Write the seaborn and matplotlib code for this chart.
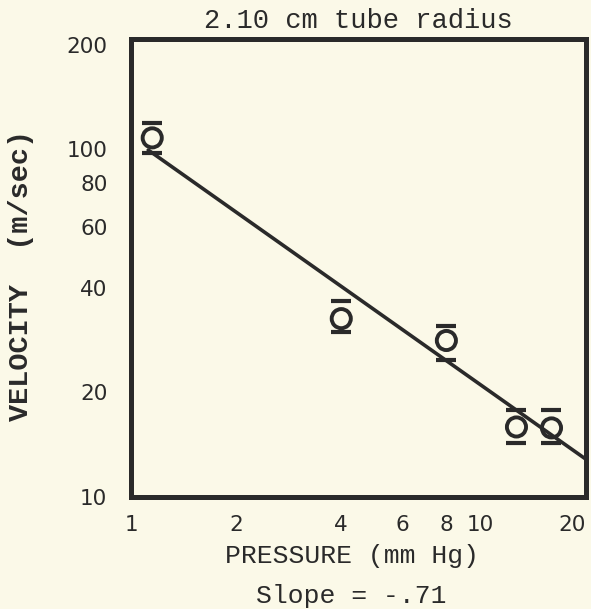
import numpy as np
import pandas as pd
import matplotlib
matplotlib.use("Agg")
import matplotlib.pyplot as plt
from matplotlib.ticker import FixedLocator, FixedFormatter, NullFormatter
import seaborn as sns

# Measured velocity vs. pressure, 2.10 cm tube
pressure = [1.15, 4.0, 8.0, 12.7, 16.0]          # mm Hg
velocity = [108.0, 32.6, 28.2, 15.9, 15.8]       # m/sec
vel_upper = [119.5, 36.7, 31.1, 17.8, 17.8]      # upper bar
vel_lower = [98.0, 29.9, 24.7, 14.3, 14.3]       # lower bar

# Power-law fit  V = C * P**slope
fit_slope = -0.71
fit_coef = 108.0
fit_range = [1.12, 20.1]

x_ticks = [1, 2, 4, 6, 8, 10, 20]
x_ticklabels = ["1", "2", "4", "6", "8", "10", "20"]
x_marks = [2, 4, 6, 8, 10]
y_ticks = [10, 20, 40, 60, 80, 100, 200]
y_ticklabels = ["10", "20", "40", "60", "80", "100", "200"]
y_marks = [20, 40, 60, 80]

title_text = "2.10 cm tube radius"
x_label = "PRESSURE (mm Hg)"
slope_text = "Slope = -.71"
y_label = "VELOCITY  (m/sec)"

paper = "#fbf9e8"
ink = "#2a2a2a"
mono = ["Liberation Mono", "DejaVu Sans Mono"]

sns.set_theme(style="ticks")
plt.rcParams["font.family"] = ["DejaVu Sans"]

df = pd.DataFrame({"pressure": pressure, "velocity": velocity})
fit_p = np.array(fit_range)
fit_df = pd.DataFrame({"pressure": fit_p, "velocity": fit_coef * fit_p ** fit_slope})

fig = plt.figure(figsize=(5.91, 6.09), dpi=100, facecolor=paper)
ax = fig.add_axes([0.2217, 0.184, 0.77, 0.752], facecolor=paper)
ax.set_xscale("log")
ax.set_yscale("log")

sns.lineplot(data=fit_df, x="pressure", y="velocity", ax=ax, color=ink,
             linewidth=2.6, zorder=2)

vel = np.array(velocity)
yerr = np.vstack([vel - np.array(vel_lower), np.array(vel_upper) - vel])
ax.errorbar(pressure, velocity, yerr=yerr, fmt="none", elinewidth=0,
            ecolor=ink, capsize=7.5, capthick=3.0, zorder=3)

sns.scatterplot(data=df, x="pressure", y="velocity", ax=ax, s=190,
                marker="o", facecolor="none", edgecolor=ink, linewidth=2.8,
                zorder=4)

ax.set_xlim(1, 20.1)
ax.set_ylim(10, 208)

for s in ax.spines.values():
    s.set_linewidth(3.6)
    s.set_color(ink)
    s.set_visible(True)

ax.xaxis.set_major_locator(FixedLocator(x_ticks))
ax.xaxis.set_major_formatter(FixedFormatter(x_ticklabels))
ax.xaxis.set_minor_locator(FixedLocator(x_marks))
ax.xaxis.set_minor_formatter(NullFormatter())
ax.yaxis.set_major_locator(FixedLocator(y_ticks))
ax.yaxis.set_major_formatter(FixedFormatter(y_ticklabels))
ax.yaxis.set_minor_locator(FixedLocator(y_marks))
ax.yaxis.set_minor_formatter(NullFormatter())

ax.tick_params(axis="both", which="major", length=0, labelsize=15.5,
               labelcolor=ink)
ax.tick_params(axis="x", which="major", pad=13)
ax.tick_params(axis="y", which="major", pad=17)
ax.tick_params(axis="both", which="minor", direction="in", length=7,
               width=3, color=ink)
for lbl in ax.get_xticklabels():
    if lbl.get_text() == "20":
        lbl.set_horizontalalignment("right")

ax.set_xlabel("")
ax.set_ylabel("")
ax.set_title(title_text, family=mono, fontsize=19.5, color=ink, pad=8)

fig.text(0.595, 0.087, x_label, family=mono, fontsize=19, color=ink,
         ha="center", va="center")
fig.text(0.595, 0.022, slope_text, family=mono, fontsize=19, color=ink,
         ha="center", va="center")
fig.text(0.036, 0.547, y_label, family=mono, fontsize=20.5, color=ink,
         fontweight="bold", rotation=90, ha="center", va="center")

fig.savefig("out.png", dpi=100, facecolor=paper)
